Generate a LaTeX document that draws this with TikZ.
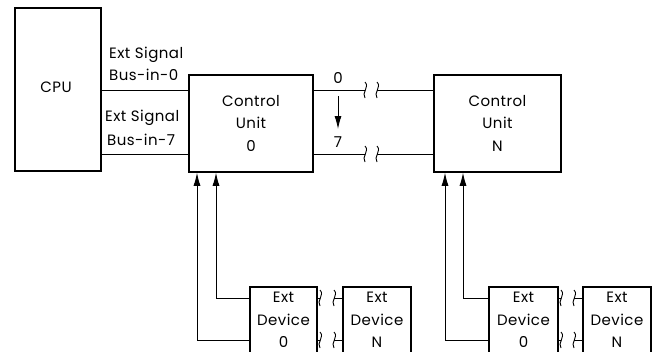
\documentclass[tikz,border=0pt]{standalone}
\usepackage{fontspec}
\setmainfont{Poppins}[LetterSpace=3]
\usetikzlibrary{arrows.meta}
\begin{document}
\begin{tikzpicture}[x=1pt,y=-1pt,
  box/.style={draw,line width=1.5pt,rectangle,inner sep=0pt},
  wire/.style={line width=0.9pt},
  arr/.style={line width=0.9pt,-{Latex[length=13pt,width=7pt]}},
  lbl/.style={inner sep=0pt,font=\fontsize{15}{20}\selectfont},
  ml/.style={lbl,align=center,font=\fontsize{15}{22.5}\selectfont},
  brk/.pic={\draw[line width=0.9pt] (0,-8) .. controls (5,-3) and (-4,3) .. (0,8);}
]
\useasboundingbox (0,0) rectangle (655,351);
\clip (0,0) rectangle (655,351);
% main boxes
\node[box,minimum width=86pt,minimum height=163pt] (cpu) at (58,89.5) {};
\node[lbl] (cputxt) at (56,87) {CPU};
\node[box,minimum width=124pt,minimum height=97pt] (cu0) at (251,123.5) {};
\node[ml] (cu0t) at (251,123) {Control\\Unit\\0};
\node[box,minimum width=127pt,minimum height=97pt] (cun) at (497.5,123.5) {};
\node[ml] (cunt) at (497.5,123) {Control\\Unit\\N};
% CPU to CU0 buses
\draw[wire] (cpu.east |- 0,90) -- (cu0.west |- 0,90);
\draw[wire] (cpu.east |- 0,154) -- (cu0.west |- 0,154);
\node[lbl,anchor=west] (l1) at (109,55) {Ext Signal};
\node[lbl,anchor=west] (l2) at (109,75) {Bus-in-0};
\node[lbl,anchor=west] (l3) at (105,118) {Ext Signal};
\node[lbl,anchor=west] (l4) at (107,140) {Bus-in-7};
% CU0 to CUN with breaks
\coordinate (b1a) at (365,90); \coordinate (b1b) at (377,90);
\coordinate (b2a) at (365,154); \coordinate (b2b) at (377,154);
\draw[wire] (cu0.east |- b1a) -- (b1a);
\draw[wire] (b1b) -- (cun.west |- b1b);
\draw[wire] (cu0.east |- b2a) -- (b2a);
\draw[wire] (b2b) -- (cun.west |- b2b);
\pic at (b1a) {brk}; \pic at (b1b) {brk};
\pic at (b2a) {brk}; \pic at (b2b) {brk};
\node[lbl] (n0) at (338,78) {0};
\node[lbl] (n7) at (338,142) {7};
\draw[arr] (338,96) -- (338,129);
% left devices
\node[box,minimum width=67pt,minimum height=80pt,anchor=north] (d00) at (283.5,286) {};
\node[ml,anchor=north] (d00t) at (283.5,292) {Ext\\Device\\0};
\node[box,minimum width=68pt,minimum height=80pt,anchor=north] (d0n) at (377,286) {};
\node[ml,anchor=north] (d0nt) at (377,292) {Ext\\Device\\N};
\coordinate (e1a) at (320,298); \coordinate (e1b) at (334,298);
\coordinate (e2a) at (320,340); \coordinate (e2b) at (334,340);
\draw[wire] (d00.east |- e1a) -- (e1a);
\draw[wire] (e1b) -- (d0n.west |- e1b);
\draw[wire] (d00.east |- e2a) -- (e2a);
\draw[wire] (e2b) -- (d0n.west |- e2b);
\pic at (e1a) {brk}; \pic at (e1b) {brk};
\pic at (e2a) {brk}; \pic at (e2b) {brk};
\draw[arr] (d00.west |- 0,340) -| (197,0 |- cu0.south);
\draw[arr] (d00.west |- 0,298) -| (216,0 |- cu0.south);
% right devices
\node[box,minimum width=69pt,minimum height=80pt,anchor=north] (dn0) at (523.5,286) {};
\node[ml,anchor=north] (dn0t) at (523.5,292) {Ext\\Device\\0};
\node[box,minimum width=68pt,minimum height=80pt,anchor=north] (dnn) at (617,286) {};
\node[ml,anchor=north] (dnnt) at (617,292) {Ext\\Device\\N};
\coordinate (f1a) at (561,298); \coordinate (f1b) at (574,298);
\coordinate (f2a) at (561,340); \coordinate (f2b) at (574,340);
\draw[wire] (dn0.east |- f1a) -- (f1a);
\draw[wire] (f1b) -- (dnn.west |- f1b);
\draw[wire] (dn0.east |- f2a) -- (f2a);
\draw[wire] (f2b) -- (dnn.west |- f2b);
\pic at (f1a) {brk}; \pic at (f1b) {brk};
\pic at (f2a) {brk}; \pic at (f2b) {brk};
\draw[arr] (dn0.west |- 0,340) -| (445,0 |- cun.south);
\draw[arr] (dn0.west |- 0,298) -| (463,0 |- cun.south);
\end{tikzpicture}
\end{document}
